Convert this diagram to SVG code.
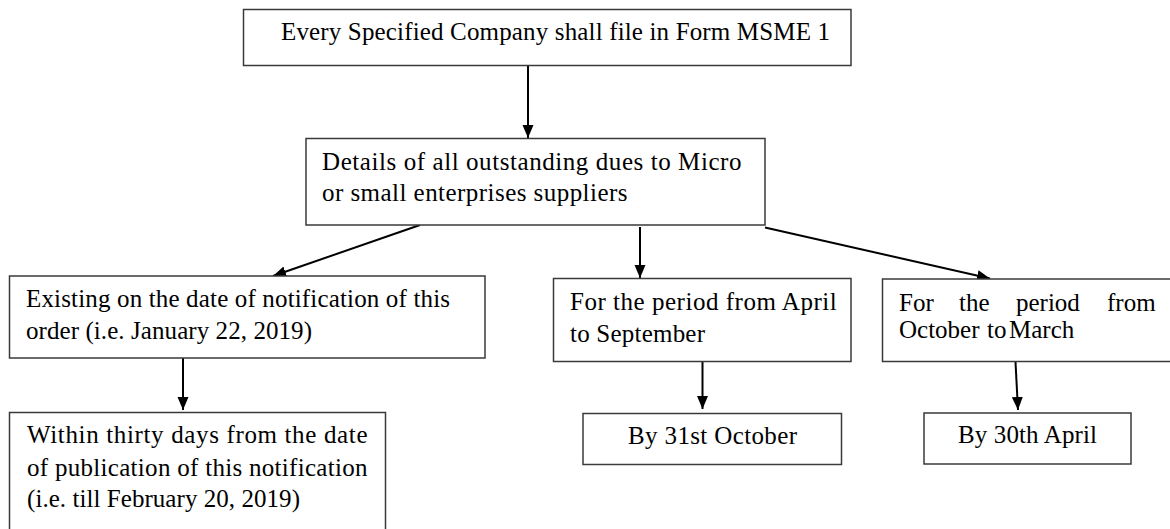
<svg xmlns="http://www.w3.org/2000/svg" width="1170" height="529" viewBox="0 0 1170 529" font-family="'Liberation Serif', 'Times New Roman', serif">
<style>
.box{fill:#ffffff;stroke:#3a3a3a;stroke-width:1.5}
.t{font-family:'Liberation Serif', 'Times New Roman', serif;font-size:25px;fill:#000}
.c{stroke:#000;stroke-width:2;fill:none;marker-end:url(#ah)}
</style>
<defs>
<marker id="ah" markerUnits="userSpaceOnUse" markerWidth="14" markerHeight="12" refX="13" refY="6" orient="auto">
<path d="M0,0.5 L13,6 L0,11.5 Z" fill="#000"/>
</marker>
</defs>
<rect x="0" y="0" width="1170" height="529" fill="#ffffff"/>
<g id="connectors">
<line class="c" x1="528" y1="66" x2="528" y2="138"/>
<line class="c" x1="420" y1="225" x2="273" y2="276"/>
<line class="c" x1="640" y1="227" x2="640" y2="278"/>
<line class="c" x1="765" y1="227.5" x2="990" y2="278.5"/>
<line class="c" x1="183" y1="352" x2="183" y2="410"/>
<line class="c" x1="702.5" y1="352.5" x2="702.5" y2="409"/>
<line class="c" x1="1015" y1="352.5" x2="1018" y2="410"/>
</g>
<g id="n1">
<rect class="box" x="243.5" y="9.5" width="607.5" height="56"/>
<text class="t" x="281" y="39.5" textLength="549">Every Specified Company  shall file in Form MSME 1</text>
</g>
<g id="n2">
<rect class="box" x="306" y="138.5" width="459" height="86.5"/>
<text class="t" x="322" y="169.5" textLength="419.5">Details of all outstanding  dues to Micro</text>
<text class="t" x="322" y="201" textLength="305.5">or small enterprises  suppliers</text>
</g>
<g id="n3">
<rect class="box" x="9.5" y="276" width="475.5" height="82"/>
<text class="t" x="26" y="307" textLength="424">Existing on the date of notification of this</text>
<text class="t" x="26" y="339" textLength="286">order (i.e. January  22, 2019)</text>
</g>
<g id="n4">
<rect class="box" x="553.5" y="278.5" width="297.5" height="83"/>
<text class="t" x="570" y="309.5" textLength="266.7">For the period  from April</text>
<text class="t" x="570" y="341.5" textLength="135">to September</text>
</g>
<g id="n5">
<rect class="box" x="882.5" y="279" width="300" height="82.5"/>
<text class="t" y="311"><tspan x="899">For</tspan><tspan x="959">the</tspan><tspan x="1016">period</tspan><tspan x="1107">from</tspan></text>
<text class="t" y="338"><tspan x="899">October</tspan><tspan x="987">to</tspan><tspan x="1009">March</tspan></text>
</g>
<g id="n6">
<rect class="box" x="9.5" y="412.5" width="376" height="130"/>
<text class="t" x="27" y="443" textLength="340.5">Within thirty days from the date</text>
<text class="t" x="27" y="476" textLength="340.5">of publication of this notification</text>
<text class="t" x="27" y="507" textLength="273">(i.e. till February 20, 2019)</text>
</g>
<g id="n7">
<rect class="box" x="583" y="413.5" width="258.5" height="51"/>
<text class="t" x="628" y="443.5" textLength="169">By 31st  October</text>
</g>
<g id="n8">
<rect class="box" x="924" y="413" width="207" height="51"/>
<text class="t" x="958" y="443" textLength="139">By 30th April</text>
</g>
</svg>
